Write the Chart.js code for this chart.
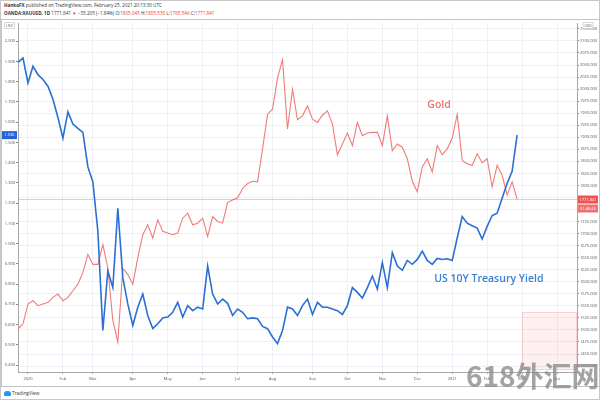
<!DOCTYPE html>
<html>
<head>
<meta charset="utf-8">
<title>Gold vs US 10Y Treasury Yield</title>
<script src="https://cdn.jsdelivr.net/npm/chart.js@4.4.1/dist/chart.umd.min.js"></script>
<style>
  html, body { margin: 0; padding: 0; background: #fff; }
  body { width: 600px; height: 400px; position: relative; overflow: hidden; font-family: "Open Sans", sans-serif; }
  #outer { position: absolute; left: 0; top: 0; width: 598px; height: 398px; border: 1px solid #c8c8c8; }
  .hdr { position: absolute; left: 4px; font-size: 4.6px; line-height: 6px; color: #333; white-space: nowrap; }
  .hdr b { font-weight: 700; }
  .red { color: #e53935; }
  #box { position: absolute; left: 1px; top: 19px; width: 597px; height: 366px; border: 1px solid #c4c4c4; }
  #box canvas { position: absolute; left: 0; top: 0; }
  #tv { position: absolute; left: 4px; top: 389px; font-size: 4.8px; line-height: 8px; color: #333; white-space: nowrap; }
  #tv .logo { display: inline-block; width: 7px; height: 5px; background: #2196f3; border-radius: 3px 3px 1px 1px; margin-right: 1px; vertical-align: middle; }
  #mark { position: absolute; left: 466px; top: 360px; font-family: "Noto Sans CJK SC", sans-serif; font-weight: 700; font-size: 28px; line-height: 30px; color: rgba(140,140,140,0.8); white-space: nowrap; }
  #seal { position: absolute; left: 522px; top: 312px; width: 53px; height: 56px; background: rgba(244,130,130,0.12); border: 1px solid rgba(235,120,120,0.25); }
</style>
</head>
<body>
<div id="outer"></div>
<div class="hdr" style="top:2px"><b>HankoFX</b> published on TradingView.com, February 25, 2021 20:13:30 UTC</div>
<div class="hdr" style="top:10px"><b>OANDA:XAUUSD, 1D</b> 1771.841 <span class="red">▼</span> −33.205 (−1.84%) O:<span class="red">1805.045</span> H:<span class="red">1805.530</span> L:<span class="red">1765.546</span> C:<span class="red">1771.841</span></div>
<div id="box"><canvas id="chart" width="597" height="366"></canvas></div>
<div id="seal"></div>
<div id="mark">618外汇网</div>
<div id="tv"><span class="logo"></span>TradingView</div>

<script>
// US 10Y yield (%), sampled about every 3 trading days, Dec 2019 - Feb 25 2021
var yieldPct = [
  1.896, 1.917, 1.794, 1.876, 1.835, 1.811, 1.778, 1.713, 1.623, 1.521,
  1.651, 1.591, 1.569, 1.550, 1.379, 1.305, 1.061, 0.571, 0.865, 0.783,
  1.175, 0.832, 0.702, 0.596, 0.686, 0.751, 0.645, 0.580, 0.604, 0.633,
  0.637, 0.661, 0.710, 0.637, 0.694, 0.669, 0.686, 0.677, 0.889, 0.751,
  0.702, 0.726, 0.705, 0.645, 0.677, 0.661, 0.629, 0.633, 0.629, 0.591,
  0.580, 0.539, 0.506, 0.571, 0.686, 0.677, 0.645, 0.694, 0.726, 0.650,
  0.710, 0.686, 0.686, 0.677, 0.669, 0.650, 0.694, 0.783, 0.759, 0.731,
  0.783, 0.840, 0.775, 0.906, 0.783, 0.955, 0.889, 0.868, 0.917, 0.898,
  0.922, 0.963, 0.917, 0.898, 0.927, 0.922, 0.925, 0.917, 1.028, 1.134,
  1.101, 1.088, 1.077, 1.023, 1.085, 1.139, 1.150, 1.224, 1.297, 1.357,
  1.536
];

// Gold spot (USD), same sampling
var goldPrice = [
  1502.5, 1512.7, 1553.9, 1560.7, 1550.4, 1553.9, 1557.3, 1567.6, 1574.4, 1560.7,
  1567.6, 1581.3, 1595.0, 1619.0, 1656.7, 1636.1, 1636.1, 1677.2, 1629.2, 1519.6,
  1475.0, 1627.9, 1615.5, 1595.0, 1649.8, 1697.8, 1718.3, 1690.9, 1728.6, 1704.6,
  1701.2, 1697.8, 1701.2, 1732.0, 1742.3, 1718.3, 1721.7, 1732.0, 1694.3, 1735.5,
  1725.2, 1721.7, 1765.0, 1769.7, 1774.5, 1793.7, 1804.0, 1808.8, 1807.4, 1876.0,
  1947.9, 1958.2, 2023.3, 2061.0, 1917.1, 1999.3, 1936.3, 1944.5, 1965.0, 1937.6,
  1930.8, 1945.8, 1954.8, 1927.3, 1863.6, 1886.2, 1908.8, 1882.8, 1930.8, 1903.4,
  1908.8, 1910.2, 1910.2, 1882.8, 1944.5, 1872.5, 1886.2, 1879.4, 1855.4, 1808.8,
  1786.9, 1838.3, 1855.4, 1828.0, 1882.8, 1863.6, 1876.0, 1897.9, 1947.9, 1852.0,
  1845.1, 1841.7, 1865.7, 1847.2, 1855.4, 1797.1, 1841.7, 1821.1, 1780.0, 1807.4,
  1771.841
];

// empty slots to the right of the last bar, up to mid April 2021
var futureSlots = 12;

// month labels on the time axis and the sample they fall on
var monthTickText = ["2020", "Feb", "Mar", "Apr", "May", "Jun", "Jul", "Aug",
                     "Sep", "Oct", "Nov", "Dec", "2021", "Feb", "Mar", "Apr"];
var monthTickIndex = [2, 9, 15, 23, 30, 37, 44, 51, 59, 66, 73, 80, 87, 94, 101, 108];

var BLUE = "#2a6fd6";
var RED = "#ef7b78";
var AXIS_FONT = { family: "Open Sans", size: 4 };

var total = yieldPct.length + futureSlots;
var labels = [];
for (var i = 0; i < total; i++) labels.push(i);

function padded(arr) {
  var out = arr.slice();
  while (out.length < total) out.push(null);
  return out;
}

function monthLabel(index) {
  var k = monthTickIndex.indexOf(index);
  return k >= 0 ? monthTickText[k] : null;
}

var overlays = {
  id: "overlays",
  afterDatasetsDraw: function (chart) {
    var ctx = chart.ctx;
    var area = chart.chartArea;
    var x = chart.scales.x, yl = chart.scales.y, yr = chart.scales.y1;
    var lastGold = goldPrice[goldPrice.length - 1];
    var lastYield = yieldPct[yieldPct.length - 1];

    ctx.save();
    // current gold price line
    var gy = Math.round(yr.getPixelForValue(lastGold)) + 0.5;
    ctx.strokeStyle = "rgba(239,83,80,0.35)";
    ctx.lineWidth = 1;
    ctx.beginPath();
    ctx.moveTo(area.left, gy);
    ctx.lineTo(area.right, gy);
    ctx.stroke();

    // chart annotations
    ctx.font = "600 10.5px 'Open Sans'";
    ctx.textBaseline = "middle";
    ctx.textAlign = "left";
    ctx.fillStyle = "#e8726f";
    ctx.fillText("Gold", x.getPixelForValue(82), yr.getPixelForValue(1966));
    ctx.fillStyle = "#3a7fd3";
    ctx.fillText("US 10Y Treasury Yield", x.getPixelForValue(83.4), yl.getPixelForValue(0.826));

    // last value labels on the axes
    ctx.font = "4px 'Open Sans'";
    ctx.textAlign = "center";
    var by = yl.getPixelForValue(lastYield);
    ctx.fillStyle = "#2962d9";
    ctx.fillRect(0, by - 4, area.left - 1, 8);
    ctx.fillStyle = "#fff";
    ctx.fillText(lastYield.toFixed(3), (area.left - 1) / 2, by);

    var rw = chart.width - area.right - 2;
    ctx.fillStyle = "#ef5350";
    ctx.fillRect(area.right + 1, gy - 4, rw, 8);
    ctx.fillStyle = "#f07070";
    ctx.fillRect(area.right + 1, gy + 5, rw, 8);
    ctx.fillStyle = "#fff";
    ctx.fillText(lastGold.toFixed(3), area.right + 1 + rw / 2, gy);
    ctx.fillText("01:46:46", area.right + 1 + rw / 2, gy + 9);

    // currency badges
    ctx.font = "3.6px 'Open Sans'";
    [[(area.left - 1) / 2], [area.right + 1 + rw / 2]].forEach(function (p) {
      ctx.fillStyle = "#fff";
      ctx.strokeStyle = "#bbb";
      ctx.lineWidth = 0.6;
      ctx.beginPath();
      ctx.rect(p[0] - 5, 2.5, 10, 6);
      ctx.fill();
      ctx.stroke();
      ctx.fillStyle = "#666";
      ctx.fillText("USD", p[0], 5.6);
    });
    ctx.restore();
  }
};

new Chart(document.getElementById("chart"), {
  type: "line",
  data: {
    labels: labels,
    datasets: [
      {
        label: "US 10Y Treasury Yield",
        data: padded(yieldPct),
        yAxisID: "y",
        borderColor: BLUE,
        borderWidth: 1.6,
        pointRadius: 0,
        tension: 0,
        spanGaps: false
      },
      {
        label: "Gold",
        data: padded(goldPrice),
        yAxisID: "y1",
        borderColor: RED,
        borderWidth: 1.1,
        pointRadius: 0,
        tension: 0,
        spanGaps: false
      }
    ]
  },
  plugins: [overlays],
  options: {
    responsive: false,
    animation: false,
    layout: { padding: 0 },
    plugins: {
      legend: { display: false },
      tooltip: { enabled: false }
    },
    scales: {
      x: {
        type: "category",
        offset: false,
        grid: { color: "#edf1f6", tickLength: 2, tickColor: "#aaa" },
        border: { display: true, color: "#a8a8a8" },
        ticks: {
          autoSkip: false,
          maxRotation: 0,
          padding: 2,
          color: "#555",
          font: AXIS_FONT,
          callback: function (value, index) { return monthLabel(index); }
        },
        afterFit: function (scale) { scale.height = 14; }
      },
      y: {
        position: "left",
        min: 0.3658,
        max: 2.0881,
        grid: { drawOnChartArea: false, tickLength: 2, tickColor: "#888" },
        border: { display: true, color: "#a8a8a8" },
        ticks: {
          stepSize: 0.1,
          includeBounds: false,
          padding: 1,
          color: "#555",
          font: AXIS_FONT,
          callback: function (v) { return v.toFixed(3); }
        },
        afterFit: function (scale) { scale.width = 16; }
      },
      y1: {
        position: "right",
        min: 1412.7,
        max: 2136.4,
        grid: { color: "#edf1f6", tickLength: 2, tickColor: "#888" },
        border: { display: true, color: "#a8a8a8" },
        ticks: {
          stepSize: 25,
          includeBounds: false,
          padding: 1,
          color: "#555",
          font: AXIS_FONT,
          callback: function (v) { return v.toFixed(3); }
        },
        afterFit: function (scale) { scale.width = 22; }
      }
    }
  }
});
</script>
</body>
</html>
